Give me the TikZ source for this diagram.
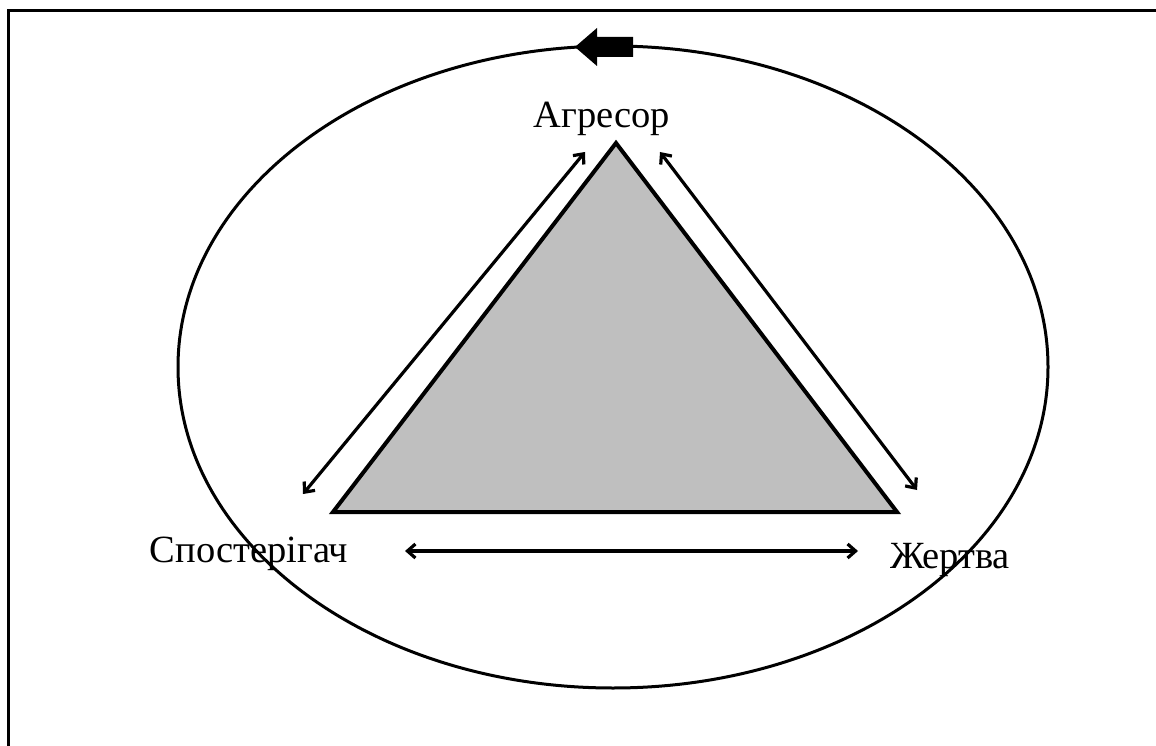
\documentclass[tikz,border=0pt]{standalone}
\usepackage{fontspec}
\setmainfont{Liberation Serif}
\usetikzlibrary{arrows.meta}
\begin{document}
\begin{tikzpicture}[x=1pt,y=-1pt,
  lbl/.style={font=\fontsize{38.5}{44}\selectfont, inner sep=0pt, anchor=base},
  rel/.style={line width=3.2pt, {Straight Barb[length=8pt,width=14pt]}-{Straight Barb[length=8pt,width=14pt]}}]
\useasboundingbox (0,0) rectangle (1156,746);
\draw[line width=3pt] (8,746) -- (8,11) -- (1156,11);
\draw[line width=3pt] (613,367) ellipse [x radius=435, y radius=321];
\fill (575,47) -- (597,28) -- (597,37) -- (633,37) -- (633,57) -- (597,57) -- (597,66) -- cycle;
\coordinate (apex) at (616,143);
\coordinate (bl) at (333,512);
\coordinate (br) at (897,512);
\filldraw[fill=black!25, line width=4pt, line join=miter] (apex) -- (br) -- (bl) -- cycle;
\node[lbl] (agr) at (602,128) {Агресор};
\node[lbl] (spo) at (249,562) {Спостерігач};
\node[lbl] (zhe) at (950,568) {Жертва};
\coordinate (a1) at (303,494);
\coordinate (a2) at (585,152);
\coordinate (b1) at (660,152);
\coordinate (b2) at (917,490);
\coordinate (c1) at (405,551);
\coordinate (c2) at (858,551);
\draw[rel] (a1) -- (a2);
\draw[rel] (b1) -- (b2);
\draw[rel] (c1) -- (c2);
\end{tikzpicture}
\end{document}
